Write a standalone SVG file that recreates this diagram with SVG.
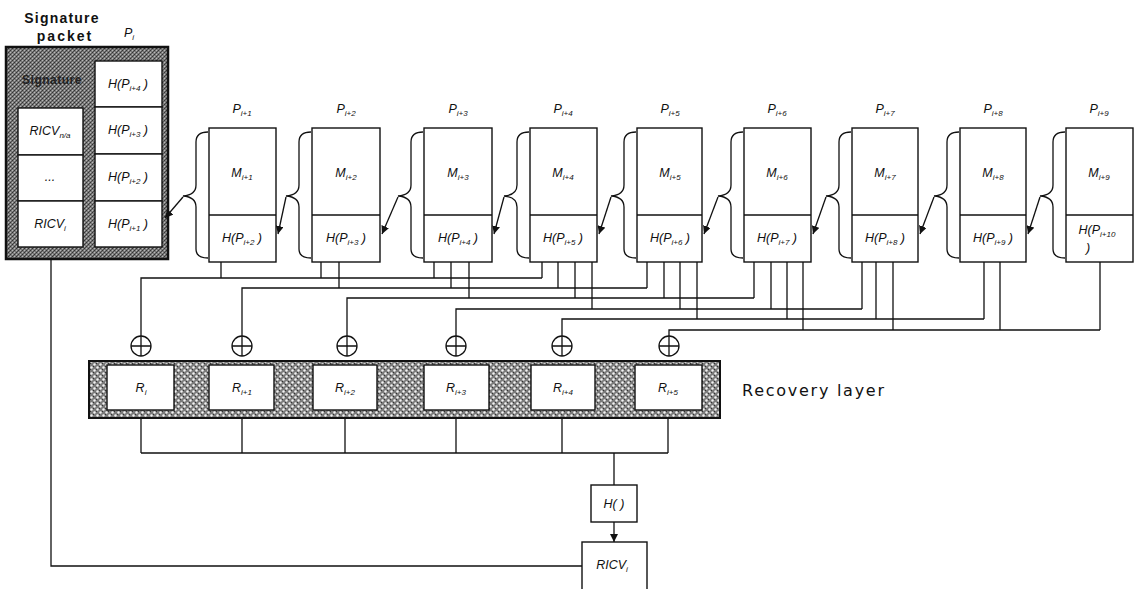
<svg xmlns="http://www.w3.org/2000/svg" width="1137" height="589" viewBox="0 0 1137 589">
<defs>
<style>
.box{fill:#fff;stroke:#111;stroke-width:1.4}
.ln{fill:none;stroke:#111;stroke-width:1.3}
.br{fill:none;stroke:#111;stroke-width:1.3}
.lab{font-family:"Liberation Sans",Arial,sans-serif;font-style:italic;font-size:12.5px;fill:#111}
.sub{font-size:8px}
.ttl{font-family:"Liberation Sans",Arial,sans-serif;font-weight:bold;font-size:14px;fill:#111}
.rl{font-family:"DejaVu Sans",sans-serif;font-size:16px;fill:#111}
</style>
<pattern id="dark" width="4" height="4" patternUnits="userSpaceOnUse">
<rect width="4" height="4" fill="#7a7a7a"/>
<rect x="0" y="0" width="1" height="1" fill="#333"/>
<rect x="2" y="2" width="1" height="1" fill="#333"/>
<rect x="2" y="0" width="1" height="1" fill="#b8b8b8"/>
<rect x="0" y="2" width="1" height="1" fill="#b8b8b8"/>
<rect x="1" y="3" width="1" height="1" fill="#4a4a4a"/>
<rect x="3" y="1" width="1" height="1" fill="#555"/>
</pattern>
<pattern id="hatch" width="6" height="6" patternUnits="userSpaceOnUse">
<rect width="6" height="6" fill="#7a7a7a"/>
<circle cx="1.5" cy="1.5" r="1.2" fill="#f2f2f2"/>
<circle cx="4.5" cy="4.5" r="1.2" fill="#f2f2f2"/>
<rect x="3" y="0" width="1" height="1" fill="#333"/>
<rect x="0" y="3" width="1" height="1" fill="#333"/>
</pattern>
<marker id="ah" viewBox="0 0 10 10" refX="10" refY="5" markerWidth="8" markerHeight="8" markerUnits="userSpaceOnUse" orient="auto">
<path d="M0,0 L10,5 L0,10 z" fill="#111"/>
</marker>
</defs>
<rect width="1137" height="589" fill="#fff"/>

<!-- Signature packet -->
<g id="signature-packet">
<text class="ttl" x="62" y="23" text-anchor="middle" letter-spacing="1.2">Signature</text>
<text class="ttl" x="65" y="41" text-anchor="middle" letter-spacing="2">packet</text>
<text class="lab" x="124" y="37">P<tspan class="sub" dy="3">i</tspan></text>
<rect x="6" y="47" width="162" height="212" fill="url(#dark)" stroke="#111" stroke-width="2.5"/>
<text x="52" y="84" text-anchor="middle" font-family="Liberation Sans,Arial,sans-serif" font-weight="bold" font-size="12" fill="#222" letter-spacing="0.5">Signature</text>
<rect class="box" x="95" y="61" width="67" height="46"/>
<rect class="box" x="95" y="107" width="67" height="47"/>
<rect class="box" x="95" y="154" width="67" height="47"/>
<rect class="box" x="95" y="201" width="67" height="46"/>
<text class="lab" x="128" y="88" text-anchor="middle">H(P<tspan class="sub" dy="3">i+4</tspan><tspan dy="-3"> )</tspan></text>
<text class="lab" x="128" y="134" text-anchor="middle">H(P<tspan class="sub" dy="3">i+3</tspan><tspan dy="-3"> )</tspan></text>
<text class="lab" x="128" y="181" text-anchor="middle">H(P<tspan class="sub" dy="3">i+2</tspan><tspan dy="-3"> )</tspan></text>
<text class="lab" x="128" y="228" text-anchor="middle">H(P<tspan class="sub" dy="3">i+1</tspan><tspan dy="-3"> )</tspan></text>
<rect class="box" x="18" y="108" width="65" height="47"/>
<rect class="box" x="18" y="155" width="65" height="46"/>
<rect class="box" x="18" y="201" width="65" height="46"/>
<text class="lab" x="50" y="135" text-anchor="middle">RICV<tspan class="sub" dy="3">n/a</tspan></text>
<text class="lab" x="50" y="181" text-anchor="middle" font-size="9">...</text>
<text class="lab" x="50" y="228" text-anchor="middle">RICV<tspan class="sub" dy="3">i</tspan></text>
</g>

<!-- Packets -->
<g id="p1"><text class="lab" x="242" y="113" text-anchor="middle">P<tspan class="sub" dy="3">i+1</tspan></text><rect class="box" x="209" y="128" width="67" height="134"/><line class="ln" x1="209" y1="215" x2="276" y2="215"/><text class="lab" x="242" y="177" text-anchor="middle">M<tspan class="sub" dy="3">i+1</tspan></text><text class="lab" x="242" y="242" text-anchor="middle">H(P<tspan class="sub" dy="3">i+2</tspan><tspan dy="-3"> )</tspan></text></g>
<g id="p2"><text class="lab" x="346" y="113" text-anchor="middle">P<tspan class="sub" dy="3">i+2</tspan></text><rect class="box" x="312" y="128" width="68" height="134"/><line class="ln" x1="312" y1="215" x2="380" y2="215"/><text class="lab" x="346" y="177" text-anchor="middle">M<tspan class="sub" dy="3">i+2</tspan></text><text class="lab" x="346" y="242" text-anchor="middle">H(P<tspan class="sub" dy="3">i+3</tspan><tspan dy="-3"> )</tspan></text></g>
<g id="p3"><text class="lab" x="458" y="113" text-anchor="middle">P<tspan class="sub" dy="3">i+3</tspan></text><rect class="box" x="424" y="128" width="68" height="134"/><line class="ln" x1="424" y1="215" x2="492" y2="215"/><text class="lab" x="458" y="177" text-anchor="middle">M<tspan class="sub" dy="3">i+3</tspan></text><text class="lab" x="458" y="242" text-anchor="middle">H(P<tspan class="sub" dy="3">i+4</tspan><tspan dy="-3"> )</tspan></text></g>
<g id="p4"><text class="lab" x="563" y="113" text-anchor="middle">P<tspan class="sub" dy="3">i+4</tspan></text><rect class="box" x="530" y="128" width="67" height="134"/><line class="ln" x1="530" y1="215" x2="597" y2="215"/><text class="lab" x="563" y="177" text-anchor="middle">M<tspan class="sub" dy="3">i+4</tspan></text><text class="lab" x="563" y="242" text-anchor="middle">H(P<tspan class="sub" dy="3">i+5</tspan><tspan dy="-3"> )</tspan></text></g>
<g id="p5"><text class="lab" x="670" y="113" text-anchor="middle">P<tspan class="sub" dy="3">i+5</tspan></text><rect class="box" x="637" y="128" width="65" height="134"/><line class="ln" x1="637" y1="215" x2="702" y2="215"/><text class="lab" x="670" y="177" text-anchor="middle">M<tspan class="sub" dy="3">i+5</tspan></text><text class="lab" x="670" y="242" text-anchor="middle">H(P<tspan class="sub" dy="3">i+6</tspan><tspan dy="-3"> )</tspan></text></g>
<g id="p6"><text class="lab" x="777" y="113" text-anchor="middle">P<tspan class="sub" dy="3">i+6</tspan></text><rect class="box" x="744" y="128" width="67" height="134"/><line class="ln" x1="744" y1="215" x2="811" y2="215"/><text class="lab" x="777" y="177" text-anchor="middle">M<tspan class="sub" dy="3">i+6</tspan></text><text class="lab" x="777" y="242" text-anchor="middle">H(P<tspan class="sub" dy="3">i+7</tspan><tspan dy="-3"> )</tspan></text></g>
<g id="p7"><text class="lab" x="885" y="113" text-anchor="middle">P<tspan class="sub" dy="3">i+7</tspan></text><rect class="box" x="852" y="128" width="66" height="134"/><line class="ln" x1="852" y1="215" x2="918" y2="215"/><text class="lab" x="885" y="177" text-anchor="middle">M<tspan class="sub" dy="3">i+7</tspan></text><text class="lab" x="885" y="242" text-anchor="middle">H(P<tspan class="sub" dy="3">i+8</tspan><tspan dy="-3"> )</tspan></text></g>
<g id="p8"><text class="lab" x="993" y="113" text-anchor="middle">P<tspan class="sub" dy="3">i+8</tspan></text><rect class="box" x="960" y="128" width="66" height="134"/><line class="ln" x1="960" y1="215" x2="1026" y2="215"/><text class="lab" x="993" y="177" text-anchor="middle">M<tspan class="sub" dy="3">i+8</tspan></text><text class="lab" x="993" y="242" text-anchor="middle">H(P<tspan class="sub" dy="3">i+9</tspan><tspan dy="-3"> )</tspan></text></g>
<g id="p9"><text class="lab" x="1099" y="113" text-anchor="middle">P<tspan class="sub" dy="3">i+9</tspan></text><rect class="box" x="1066" y="128" width="67" height="134"/><line class="ln" x1="1066" y1="215" x2="1133" y2="215"/><text class="lab" x="1099" y="177" text-anchor="middle">M<tspan class="sub" dy="3">i+9</tspan></text><text class="lab" x="1097" y="234" text-anchor="middle">H(P<tspan class="sub" dy="3">i+10</tspan></text><text class="lab" x="1088" y="252" text-anchor="middle">)</text></g>

<!-- XOR nodes -->
<g id="xor1"><circle class="ln" cx="141" cy="346" r="10"/><path class="ln" d="M131,346 H151 M141,336 V356"/></g>
<g id="xor2"><circle class="ln" cx="242" cy="346" r="10"/><path class="ln" d="M232,346 H252 M242,336 V356"/></g>
<g id="xor3"><circle class="ln" cx="347" cy="346" r="10"/><path class="ln" d="M337,346 H357 M347,336 V356"/></g>
<g id="xor4"><circle class="ln" cx="456" cy="346" r="10"/><path class="ln" d="M446,346 H466 M456,336 V356"/></g>
<g id="xor5"><circle class="ln" cx="562" cy="346" r="10"/><path class="ln" d="M552,346 H572 M562,336 V356"/></g>
<g id="xor6"><circle class="ln" cx="669" cy="346" r="10"/><path class="ln" d="M659,346 H679 M669,336 V356"/></g>

<!-- Recovery layer -->
<g id="recovery-layer">
<rect x="89" y="361" width="631" height="57" fill="url(#hatch)" stroke="#111" stroke-width="2"/>
<rect class="box" x="107" y="365" width="67" height="45"/>
<rect class="box" x="209" y="365" width="65" height="45"/>
<rect class="box" x="313" y="365" width="64" height="45"/>
<rect class="box" x="424" y="365" width="65" height="45"/>
<rect class="box" x="531" y="365" width="64" height="45"/>
<rect class="box" x="635" y="365" width="67" height="45"/>
<text class="lab" x="141" y="392" text-anchor="middle">R<tspan class="sub" dy="3">i</tspan></text>
<text class="lab" x="242" y="392" text-anchor="middle">R<tspan class="sub" dy="3">i+1</tspan></text>
<text class="lab" x="345" y="392" text-anchor="middle">R<tspan class="sub" dy="3">i+2</tspan></text>
<text class="lab" x="456" y="392" text-anchor="middle">R<tspan class="sub" dy="3">i+3</tspan></text>
<text class="lab" x="563" y="392" text-anchor="middle">R<tspan class="sub" dy="3">i+4</tspan></text>
<text class="lab" x="668" y="392" text-anchor="middle">R<tspan class="sub" dy="3">i+5</tspan></text>
<text class="rl" x="742" y="396" textLength="142" lengthAdjust="spacing">Recovery layer</text>
</g>

<g id="hash"><rect class="box" x="591" y="485" width="46" height="37"/><text class="lab" x="614" y="508" text-anchor="middle">H( )</text></g>
<g id="ricv"><rect class="box" x="582" y="542" width="65" height="60"/><text class="lab" x="612" y="569" text-anchor="middle">RICV<tspan class="sub" dy="3">i</tspan></text></g>

<!-- Connectors -->
<g id="connectors">
<path class="br" d="M208,132 Q196,132 196,142 L196,185 Q196,195 183,196 Q196,197 196,207 L196,249 Q196,258 208,258"/>
<path class="br" d="M311,132 Q299,132 299,142 L299,185 Q299,195 286,196 Q299,197 299,207 L299,249 Q299,258 311,258"/>
<path class="br" d="M423,132 Q411,132 411,142 L411,185 Q411,195 398,196 Q411,197 411,207 L411,249 Q411,258 423,258"/>
<path class="br" d="M529,132 Q517,132 517,142 L517,185 Q517,195 504,196 Q517,197 517,207 L517,249 Q517,258 529,258"/>
<path class="br" d="M636,132 Q624,132 624,142 L624,185 Q624,195 611,196 Q624,197 624,207 L624,249 Q624,258 636,258"/>
<path class="br" d="M743,132 Q731,132 731,142 L731,185 Q731,195 718,196 Q731,197 731,207 L731,249 Q731,258 743,258"/>
<path class="br" d="M851,132 Q839,132 839,142 L839,185 Q839,195 826,196 Q839,197 839,207 L839,249 Q839,258 851,258"/>
<path class="br" d="M959,132 Q947,132 947,142 L947,185 Q947,195 934,196 Q947,197 947,207 L947,249 Q947,258 959,258"/>
<path class="br" d="M1065,132 Q1053,132 1053,142 L1053,185 Q1053,195 1040,196 Q1053,197 1053,207 L1053,249 Q1053,258 1065,258"/>
<line class="ln" x1="183" y1="197" x2="165" y2="218" marker-end="url(#ah)"/>
<line class="ln" x1="286" y1="197" x2="278" y2="234" marker-end="url(#ah)"/>
<line class="ln" x1="398" y1="197" x2="382" y2="234" marker-end="url(#ah)"/>
<line class="ln" x1="504" y1="197" x2="494" y2="234" marker-end="url(#ah)"/>
<line class="ln" x1="611" y1="197" x2="599" y2="234" marker-end="url(#ah)"/>
<line class="ln" x1="718" y1="197" x2="704" y2="234" marker-end="url(#ah)"/>
<line class="ln" x1="826" y1="197" x2="813" y2="234" marker-end="url(#ah)"/>
<line class="ln" x1="934" y1="197" x2="920" y2="234" marker-end="url(#ah)"/>
<line class="ln" x1="1040" y1="197" x2="1028" y2="234" marker-end="url(#ah)"/>
<path class="ln" d="M141,336 V278 H542"/>
<path class="ln" d="M242,336 V288 H647"/>
<path class="ln" d="M347,336 V298 H754"/>
<path class="ln" d="M456,336 V309 H862"/>
<path class="ln" d="M562,336 V319 H984"/>
<path class="ln" d="M669,336 V330 H1100"/>
<path class="ln" d="M221,262 V278 M321,262 V278 M339,262 V288 M434,262 V278 M451,262 V288 M469,262 V298 M542,262 V278 M558,262 V288 M575,262 V298 M592,262 V309 M647,262 V288 M664,262 V298 M680,262 V309 M697,262 V319 M754,262 V298 M771,262 V309 M787,262 V319 M803,262 V330 M862,262 V309 M876,262 V319 M893,262 V330 M984,262 V319 M1000,262 V330 M1100,262 V330"/>
<path class="ln" d="M141,418 V453 M242,418 V453 M345,418 V453 M456,418 V453 M562,418 V453 M668,418 V453 M141,453 H668 M614,453 V485"/>
<line class="ln" x1="614" y1="522" x2="614" y2="542" marker-end="url(#ah)"/>
<path class="ln" d="M51,259 V566 H582"/>
</g>
</svg>
